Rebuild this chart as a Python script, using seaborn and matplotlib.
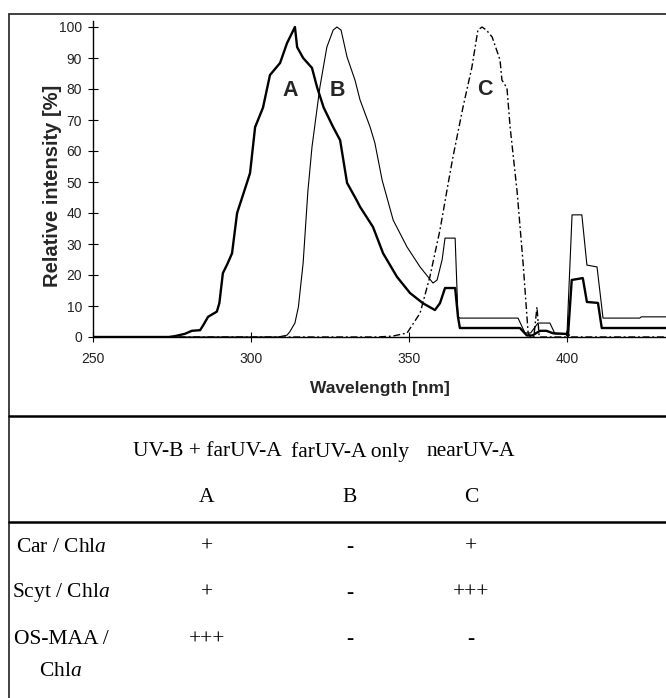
import matplotlib
matplotlib.use("Agg")
import matplotlib.pyplot as plt
from matplotlib.lines import Line2D
import seaborn as sns
import pandas as pd

# Emission spectra of the three UV treatments (wavelength in nm, relative intensity in %)
a_wavelength = [250, 274, 276, 279, 281.3, 283.9, 285, 286.4, 289.2, 290, 291.1, 292.5, 294,
                295.6, 298.7, 299.7, 301.3, 303.8, 306, 309.2, 311.4, 313.9, 314.6, 316.5,
                319.3, 320.9, 323, 326, 328.2, 330.4, 333.5, 334.5, 338.6, 341.8, 346.2,
                350.3, 354.4, 358.2, 359.8, 361.4, 364.6, 365.5, 366.1, 385.1, 387.3, 389,
                391.5, 393.5, 395.6, 399.8, 400.3, 401.5, 405, 406.3, 409.8, 411, 432]
a_intensity = [0, 0, 0.3, 1, 2, 2.2, 4, 6.5, 8.2, 11, 20.6, 23.5, 27,
               40, 49.7, 52.9, 67.7, 74, 84.5, 88.4, 94.8, 100, 93.5, 90,
               86.8, 80.6, 74, 67.7, 63.5, 49.7, 44, 42, 35.5, 27, 19.4,
               14.2, 10.9, 8.7, 10.9, 15.8, 15.8, 6.5, 2.9, 2.9, 0.5, 0.5,
               2, 2, 1.2, 1, 0.3, 18.4, 19, 11.3, 11, 2.9, 2.9]

b_wavelength = [250, 308.5, 311.4, 312.3, 313.9, 315, 316.5, 318, 319.3, 321.8, 324, 326,
                327.2, 328.5, 329.7, 330.4, 332.9, 334.5, 337.7, 339.2, 341.5, 345, 349.4,
                353.5, 357.6, 358.9, 360.5, 361.4, 364.6, 365.5, 366.1, 384.5, 386.7, 388.5,
                390.8, 394.6, 396.2, 400, 401.6, 404.7, 406.3, 409.5, 411.4, 423, 423.5, 432]
b_intensity = [0, 0, 0.6, 1.7, 4.5, 9.7, 23.9, 47, 61.3, 80.6, 93.5, 99,
               100, 99, 93.5, 90.3, 82.9, 76.5, 67.7, 62.6, 50.6, 37.7, 29,
               22.6, 17.4, 18.4, 25, 31.9, 31.9, 6.5, 6.1, 6.1, 1.3, 1.3,
               4.5, 4.5, 1, 1, 39.4, 39.4, 23.2, 22.6, 6.1, 6.1, 6.5, 6.5]

c_wavelength = [250, 340, 344.9, 349.4, 353.5, 356.6, 359.8, 362.3, 363.9, 367.1, 369.9,
                371.8, 373.1, 374.5, 376.3, 378.8, 379.4, 381, 382, 384.2, 386.1, 387.7,
                388.5, 389.5, 390.5, 391.2, 392, 399.5, 400.3, 400.8, 401.5, 432]
c_intensity = [0, 0, 0.3, 1.3, 7.7, 19.4, 34.5, 49, 58, 74.2, 87,
               99, 100, 99, 96.8, 89.4, 82.9, 80.3, 67.7, 47, 23.9, 1.3,
               0, 0, 9.7, 0, 0, 0, 2.5, 0, 0, 0]

curve_labels = ["A", "B", "C"]
label_wavelength = [312.3, 327.3, 374.0]
label_intensity = [79.5, 79.5, 79.9]

x_ticks = [250, 300, 350, 400]
y_ticks = list(range(0, 101, 10))

# Summary table under the spectra
treatments = ["UV-B + farUV-A", "farUV-A only", "nearUV-A"]
ratios = ["Car / Chl$\\mathit{a}$", "Scyt / Chl$\\mathit{a}$", "OS-MAA /\nChl$\\mathit{a}$"]
responses = [["+", "-", "+"],
             ["+", "-", "+++"],
             ["+++", "-", "-"]]

sns.set_style("white")
plt.rcParams["font.family"] = ["Liberation Sans", "DejaVu Sans"]
plt.rcParams["mathtext.fontset"] = "custom"
plt.rcParams["mathtext.rm"] = "Liberation Serif"
plt.rcParams["mathtext.it"] = "Liberation Serif:italic"

W, H = 666, 698
fig = plt.figure(figsize=(W / 100, H / 100), dpi=100)

ax_left, ax_right, ax_bottom, ax_top = 93, 666, 337, 20.8
ax = fig.add_axes([ax_left / W, 1 - ax_bottom / H,
                   (ax_right - ax_left) / W, (ax_bottom - ax_top) / H])

spectra = pd.concat([
    pd.DataFrame({"wavelength": a_wavelength, "intensity": a_intensity, "lamp": "A"}),
    pd.DataFrame({"wavelength": b_wavelength, "intensity": b_intensity, "lamp": "B"}),
    pd.DataFrame({"wavelength": c_wavelength, "intensity": c_intensity, "lamp": "C"}),
])
styles = {"A": dict(lw=1.7, ls="-"),
          "B": dict(lw=0.8, ls="-"),
          "C": dict(lw=1.0, ls=(0, (5, 2, 1.3, 2)))}
for lamp in ["C", "B", "A"]:
    sub = spectra[spectra["lamp"] == lamp]
    sns.lineplot(data=sub, x="wavelength", y="intensity", ax=ax, color="black",
                 sort=False, estimator=None, legend=False,
                 linewidth=styles[lamp]["lw"], linestyle=styles[lamp]["ls"])

for lab, lx, ly in zip(curve_labels, label_wavelength, label_intensity):
    ax.text(lx, ly, lab, ha="center", va="center", fontsize=15.5, fontweight="bold")

ax.set_xlim(250, 250 + (ax_right - ax_left) / 3.16)
ax.set_ylim(0, 102)
ax.set_xticks(x_ticks)
ax.set_yticks(y_ticks)
ax.tick_params(direction="inout", length=6.5, width=0.8, color="black",
               left=True, bottom=True, labelsize=10, labelcolor="#222222")
ax.tick_params(axis="y", pad=4.5)
ax.tick_params(axis="x", pad=7.5)
sns.despine(ax=ax, top=True, right=True)
for side in ["left", "bottom"]:
    ax.spines[side].set_color("black")
    ax.spines[side].set_linewidth(1.0)

ax.set_xlabel("Wavelength [nm]", fontsize=12.5, fontweight="bold", va="center")
ax.xaxis.set_label_coords(0.5, (ax_bottom - 388) / (ax_bottom - ax_top))
ax.set_ylabel("Relative intensity [%]", fontsize=14.5, fontweight="bold", va="center")
ax.yaxis.set_label_coords((53 - ax_left) / (ax_right - ax_left),
                          (ax_bottom - 186) / (ax_bottom - ax_top))


def fx(px):
    return px / W


def fy(py):
    return 1 - py / H


# Outer frame and table rules
fig.add_artist(Line2D([fx(9), fx(9)], [fy(14), fy(698)], color="#333333", lw=1.3))
fig.add_artist(Line2D([fx(9), fx(666)], [fy(14), fy(14)], color="#333333", lw=1.3))
fig.add_artist(Line2D([fx(9), fx(666)], [fy(415.5), fy(415.5)], color="black", lw=1.8))
fig.add_artist(Line2D([fx(9), fx(666)], [fy(522), fy(522)], color="black", lw=1.8))

serif = dict(family="Liberation Serif", fontsize=15.5, color="black")
col_x = [207, 350, 471]
for cx, name, lab in zip(col_x, treatments, curve_labels):
    fig.text(fx(cx), fy(452), name, ha="center", va="center", **serif)
    fig.text(fx(cx), fy(498), lab, ha="center", va="center", **serif)

row_y = [547, 593, 640]
for ry, ratio, row in zip(row_y, ratios, responses):
    if "\n" in ratio:
        first, second = ratio.split("\n")
        fig.text(fx(61), fy(ry), first, ha="center", va="center", **serif)
        fig.text(fx(61), fy(672), second, ha="center", va="center", **serif)
    else:
        fig.text(fx(61), fy(ry), ratio, ha="center", va="center", **serif)
    for cx, val in zip(col_x, row):
        fig.text(fx(cx), fy(ry), val, ha="center", va="center", **serif)

fig.savefig("out.png", dpi=100)
